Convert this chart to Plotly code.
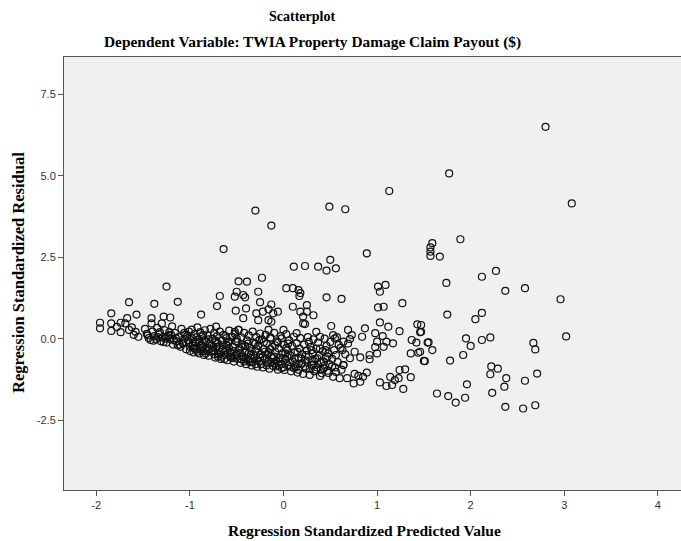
import plotly.graph_objects as go

# ---- data ----
pred = [
    # left sparse
    -1.96, -1.96, -1.84, -1.84, -1.84, -1.74, -1.74, -1.67, -1.69, -1.65, -1.60, -1.55, -1.65, -1.57, -1.78, -1.62, -1.58,
    # -1.5 .. -1.0
    -1.38, -1.25, -1.13, -0.88, -1.41, -1.41, -1.28, -1.21, -1.30,
    -1.48, -1.46, -1.44, -1.42, -1.40, -1.38, -1.36, -1.35, -1.33, -1.31, -1.29, -1.27, -1.25, -1.23, -1.21, -1.19, -1.18,
    -1.16, -1.14, -1.12, -1.10, -1.09, -1.07, -1.05, -1.04, -1.02, -1.01, -1.00,
    # -1.0 .. -0.5
    -0.98, -0.98, -0.97, -0.96, -0.95, -0.94, -0.93, -0.92, -0.91, -0.90, -0.89, -0.88, -0.87, -0.86, -0.85, -0.84, -0.83,
    -0.82, -0.81, -0.80, -0.79, -0.78, -0.77, -0.76, -0.75, -0.74, -0.73, -0.72, -0.71, -0.70, -0.69, -0.68, -0.67, -0.66,
    -0.65, -0.64, -0.63, -0.62, -0.61, -0.60, -0.59, -0.58, -0.57, -0.56, -0.55, -0.54, -0.53, -0.52, -0.51, -0.50,
    # -0.5 .. 0
    -0.49, -0.48, -0.47, -0.46, -0.45, -0.44, -0.43, -0.42, -0.41, -0.40, -0.39, -0.38, -0.37, -0.36, -0.35, -0.34, -0.33,
    -0.32, -0.31, -0.30, -0.29, -0.28, -0.27, -0.26, -0.25, -0.24, -0.23, -0.22, -0.21, -0.20, -0.19, -0.18, -0.17, -0.16,
    -0.15, -0.14, -0.13, -0.12, -0.11, -0.10, -0.09, -0.08, -0.07, -0.06, -0.05, -0.04, -0.03, -0.02, -0.01, 0.00,
    # 0 .. 0.7
    0.01, 0.02, 0.03, 0.04, 0.05, 0.06, 0.07, 0.08, 0.09, 0.10, 0.11, 0.12, 0.13, 0.14, 0.15, 0.16, 0.17, 0.18, 0.19, 0.20,
    0.21, 0.22, 0.23, 0.24, 0.25, 0.26, 0.27, 0.28, 0.29, 0.30, 0.31, 0.32, 0.33, 0.34, 0.35, 0.36, 0.37, 0.38, 0.39, 0.40,
    0.41, 0.42, 0.43, 0.44, 0.45, 0.46, 0.47, 0.48, 0.49, 0.50, 0.52, 0.53, 0.54, 0.55, 0.56, 0.57, 0.58, 0.60, 0.61, 0.62,
    0.64, 0.66, 0.68, 0.69,
    # second layer of the dense band
    -1.15, -1.08, -1.03, -0.97, -0.93, -0.89, -0.85, -0.81, -0.77, -0.73, -0.69, -0.65, -0.61, -0.57, -0.53, -0.49, -0.45,
    -0.41, -0.37, -0.33, -0.29, -0.25, -0.21, -0.17, -0.13, -0.09, -0.05, -0.01, 0.03, 0.07, 0.11, 0.15, 0.19, 0.23, 0.27,
    0.31, 0.35, 0.39, 0.43, 0.47,
    -1.32, -1.26, -1.20, -1.13, -1.06, -1.00, -0.95, -0.90, -0.86, -0.80, -0.75, -0.70, -0.66, -0.62, -0.58, -0.54, -0.50,
    -0.46, -0.42, -0.38, -0.34, -0.30, -0.26, -0.22, -0.18, -0.14, -0.10, -0.06, -0.02, 0.02,
    # above the band
    -0.23, -0.48, -0.39, -0.27, -0.50, -0.52, -0.43, -0.41, -0.68, -0.71, -0.51, -0.40, -0.25, 0.03, 0.10, 0.16, 0.17,
    -0.13, -0.16, -0.06, -0.11, -0.22, -0.29, -0.27, -0.16, -0.13, 0.10, 0.18, 0.25, 0.25, 0.21, 0.23, -0.43, -0.72,
    -0.48, -0.52, -0.55, -0.16, -0.14, 0.00, -0.02, 0.14,
    0.46, 0.62, 0.32, 0.21, 0.18, 0.51, 0.69, 0.73, 0.71, 0.87, 0.84, 0.39, 0.35, 0.53, 0.55, 0.59, 0.64, 0.63,
    # middle right
    0.98, 1.06, 1.00, 1.10, 1.17, 0.98, 1.07, 1.37, 1.42, 1.54, 1.36, 1.44, 1.50, 0.92, 0.92, 1.00, 0.82, 0.76, 0.71,
    0.64, 0.89, 0.85, 0.80, 0.76, 0.82, 0.75, 1.24, 1.30, 1.36, 1.23, 1.03, 1.14, 1.19, 1.10, 1.16, 1.28,
    1.01, 1.09, 1.03, 1.27, 1.01, 1.07, 1.03, 1.12, 1.24, 1.43, 1.46,
    # right side
    1.57, 1.67, 1.59, 1.57, 1.57, 1.74, 2.12, 2.27, 2.37, 2.58, 2.96, 1.75, 2.12, 2.05, 1.47, 1.47, 1.55, 1.59, 1.46,
    1.51, 1.78, 1.95, 2.00, 2.12, 2.21, 1.92, 2.67, 2.69, 3.02, 2.22, 2.29, 2.21, 2.38, 2.36, 2.58, 2.71, 1.96, 2.23,
    1.64, 1.76, 1.84, 1.94, 2.37, 2.56, 2.69,
    # upper outliers
    2.80, 1.77, 3.08, 1.89, 1.13, -0.30, 0.49, 0.66, -0.13, -0.64, 0.89, 0.11, 0.23, 0.37, 0.46, 0.50, 0.56,
]

resid = [
    # left sparse
    0.49, 0.32, 0.78, 0.47, 0.24, 0.49, 0.20, 0.63, 0.47, 0.27, 0.12, 0.06, 1.12, 0.74, 0.36, 0.35, 0.21,
    # -1.5 .. -1.0
    1.07, 1.60, 1.13, 0.74, 0.63, 0.47, 0.68, 0.65, 0.47,
    0.30, 0.15, 0.02, -0.04, 0.22, 0.08, -0.02, 0.33, 0.14, -0.08, 0.04, 0.26, -0.12, 0.10, -0.02, 0.38, -0.18,
    0.18, -0.08, 0.05, -0.25, 0.30, -0.15, 0.12, -0.32, -0.05, 0.22, -0.38,
    # -1.0 .. -0.5
    0.28, 0.02, -0.22, -0.42, 0.14, -0.10, -0.33, 0.35, -0.02, -0.45, 0.20, -0.18, 0.06, -0.38, -0.50, 0.26, -0.08,
    -0.28, 0.10, -0.52, -0.15, 0.30, -0.40, 0.00, -0.25, 0.18, -0.58, -0.10, 0.08, -0.45, -0.30, 0.22, -0.62, -0.05,
    -0.20, 0.12, -0.50, -0.35, 0.02, -0.66, -0.12, 0.25, -0.42, -0.58, 0.06, -0.25, -0.70, 0.15, -0.08, -0.48,
    # -0.5 .. 0
    -0.62, 0.27, -0.30, -0.74, 0.04, -0.18, -0.55, 0.18, -0.40, -0.78, -0.05, -0.66, 0.10, -0.28, -0.50, -0.82, 0.22,
    -0.12, -0.60, -0.38, 0.05, -0.86, -0.22, -0.70, 0.16, -0.48, -0.02, -0.88, -0.32, -0.62, 0.12, -0.15, -0.76, -0.42,
    -0.92, 0.04, -0.55, -0.25, -0.84, 0.18, -0.40, -0.68, -0.08, -0.95, -0.30, -0.58, 0.08, -0.78, -0.45, -0.18,
    # 0 .. 0.7
    -0.96, -0.62, 0.14, -0.35, -0.82, -0.05, -0.50, -1.00, -0.22, -0.70, 0.06, -0.42, -0.88, -0.14, -1.04, -0.58, -0.30,
    0.02, -0.78, -0.48, -1.08, -0.18, -0.66, -0.92, -0.36, 0.05, -0.55, -1.11, -0.25, -0.80, -0.45, -0.02, -1.00, -0.62,
    -0.30, -0.88, -0.12, -0.52, -1.14, -0.72, -1.06, -0.38, -0.91, 0.00, -0.60, -0.22, -0.98, -0.45, -0.78, -0.10, -0.62,
    -1.17, -0.35, -0.88, -0.50, 0.05, -0.72, -1.21, -0.28, -0.95, -0.81, -0.48, -1.21, -0.15,
    # second layer of the dense band
    0.02, -0.12, 0.08, -0.15, 0.05, -0.28, -0.05, -0.38, -0.20, -0.05, -0.48, -0.32, -0.18, -0.55, -0.38, -0.10, -0.62,
    -0.22, -0.45, -0.70, -0.30, -0.58, -0.10, -0.48, -0.72, -0.20, -0.82, -0.60, -0.28, -0.72, -0.90, -0.40, -0.60, -0.85,
    -0.10, -0.68, -0.95, -0.30, -0.70, -0.55,
    0.20, 0.00, 0.12, -0.20, 0.00, -0.25, -0.30, -0.10, 0.12, -0.02, -0.35, -0.15, -0.55, 0.08, -0.30, -0.60, 0.00,
    -0.45, -0.70, -0.15, -0.38, -0.78, -0.05, -0.55, -0.82, -0.32, -0.55, -0.12, -0.90, -0.45,
    # above the band
    1.87, 1.76, 1.75, 1.44, 1.44, 1.29, 1.34, 1.27, 1.31, 1.00, 0.86, 0.93, 1.12, 1.55, 1.55, 1.49, 1.31,
    1.05, 0.90, 0.83, 0.78, 0.83, 0.78, 0.57, 0.57, 0.52, 0.98, 0.83, 1.03, 0.83, 0.68, 0.45, 0.63, 0.37,
    0.27, 0.21, 0.06, 0.27, 0.01, 0.27, 0.01, 0.17,
    1.27, 1.22, 0.72, 0.47, 1.40, 0.39, 0.27, 0.11, -0.01, 0.32, 0.06, 0.06, 0.21, 0.11, 0.01, -0.19, -0.09, -0.35,
    # middle right
    0.17, 0.08, -0.09, -0.09, -0.14, -0.26, -0.25, -0.04, -0.12, -0.12, -0.45, -0.43, -0.68, -0.50, -0.63, -0.45, -0.57,
    -0.40, -0.60, -0.81, -1.04, -1.17, -1.14, -1.08, -1.32, -1.37, -0.96, -0.94, -1.18, -1.21, -1.34, -1.17, -1.27,
    -1.45, -1.42, -1.54,
    1.60, 1.65, 1.44, 1.09, 0.96, 0.98, 0.50, 0.37, 0.23, 0.44, 0.20,
    # right side
    2.67, 2.52, 2.93, 2.80, 2.54, 1.71, 1.90, 2.08, 1.47, 1.55, 1.21, 0.74, 0.79, 0.60, 0.42, 0.21, -0.11, -0.35, -0.40,
    -0.69, -0.67, 0.01, -0.22, -0.04, 0.04, -0.50, -0.13, -0.33, 0.07, -0.85, -0.92, -1.09, -1.21, -1.47, -1.29, -1.07,
    -1.40, -1.66, -1.68, -1.76, -1.96, -1.81, -2.09, -2.14, -2.04,
    # upper outliers
    6.50, 5.07, 4.15, 3.05, 4.53, 3.93, 4.05, 3.97, 3.47, 2.75, 2.62, 2.21, 2.23, 2.21, 2.09, 2.42, 2.16,
]

# third layer of the dense band (nearly solid black in the reference)
band_pred = [
    -1.45, -1.39, -1.34, -1.28, -1.22, -1.17, -1.11, -1.06, -1.01, -0.96, -0.92, -0.87, -0.83, -0.79, -0.74, -0.71,
    -0.67, -0.63, -0.60, -0.56, -0.52, -0.48, -0.44, -0.40, -0.36, -0.32, -0.28, -0.24, -0.20, -0.16, -0.12, -0.08,
    -0.04, 0.00, 0.04, 0.08, 0.12, 0.16, 0.20, 0.24, 0.28, 0.32, 0.36, 0.40, 0.44, 0.48, 0.52, 0.56,
    -0.70, -0.35, -0.10, 0.14, -0.58, -0.88, -1.24, -0.45, -0.30, 0.05, 0.30, 0.45,
]
band_resid = [
    0.10, -0.06, 0.05, -0.10, 0.20, -0.05, -0.18, 0.18, -0.12, -0.28, -0.40, -0.22, -0.45, -0.32, -0.48, -0.25,
    -0.40, -0.62, -0.22, -0.45, -0.52, -0.35, -0.55, -0.62, -0.72, -0.50, -0.65, -0.78, -0.40, -0.68, -0.60, -0.85,
    -0.70, -0.88, -0.55, -0.86, -0.62, -0.95, -0.75, -0.50, -0.92, -0.80, -0.60, -0.95, -0.82, -1.05, -0.85, -1.02,
    -0.55, -0.60, -0.75, -0.78, -0.08, -0.35, 0.05, -0.25, -0.15, -0.15, -0.35, -0.35,
]

x_ticks = [-2, -1, 0, 1, 2, 3, 4]
x_tick_text = ["-2", "-1", "0", "1", "2", "3", "4"]
y_ticks = [-2.5, 0.0, 2.5, 5.0, 7.5]
y_tick_text = ["-2.5", "0.0", "2.5", "5.0", "7.5"]

title_main = "Scatterplot"
title_sub = "Dependent Variable: TWIA Property Damage Claim Payout ($)"
x_title = "Regression Standardized Predicted Value"
y_title = "Regression Standardized Residual"

all_x = pred + band_pred
all_y = resid + band_resid
assert len(all_x) == len(all_y)

# ---- layout geometry (pixels) ----
W, H = 681, 541
L, R, T, B = 64, 0, 57, 51
pw, ph = W - L - R, H - T - B

def px_x(px):
    return (px - L) / pw

def px_y(py):
    return (H - B - py) / ph

serif = "Liberation Serif, Times New Roman, serif"
sans = "Liberation Sans, Arial, sans-serif"

fig = go.Figure()
fig.add_trace(go.Scatter(
    x=all_x, y=all_y, mode="markers",
    marker=dict(symbol="circle-open", size=7, color="#111111", line=dict(width=1.2)),
    showlegend=False, hoverinfo="x+y",
))

axis_common = dict(
    showgrid=False, zeroline=False, showline=True, linecolor="#555555", linewidth=1,
    ticks="outside", ticklen=5, tickcolor="#555555", tickwidth=1,
    tickfont=dict(family=sans, size=11, color="#333333"),
)

fig.update_layout(
    width=W, height=H,
    margin=dict(l=L, r=R, t=T, b=B, pad=0),
    paper_bgcolor="white", plot_bgcolor="#f0f0f0",
    xaxis=dict(range=[-2.345, 4.247], tickvals=x_ticks, ticktext=x_tick_text, mirror=True, **axis_common),
    yaxis=dict(range=[-4.64, 8.64], tickvals=y_ticks, ticktext=y_tick_text, **axis_common),
    annotations=[
        dict(text="<b>" + title_main + "</b>", xref="paper", yref="paper",
             x=px_x(302), y=px_y(17), xanchor="center", yanchor="middle", showarrow=False,
             font=dict(family=serif, size=14, color="#000000")),
        dict(text="<b>" + title_sub + "</b>", xref="paper", yref="paper",
             x=px_x(312), y=px_y(42), xanchor="center", yanchor="middle", showarrow=False,
             font=dict(family=serif, size=15.4, color="#000000")),
        dict(text="<b>" + x_title + "</b>", xref="paper", yref="paper",
             x=px_x(364), y=px_y(530), xanchor="center", yanchor="middle", showarrow=False,
             font=dict(family=serif, size=15.5, color="#000000")),
        dict(text="<b>" + y_title + "</b>", xref="paper", yref="paper",
             x=px_x(18), y=px_y(273), xanchor="center", yanchor="middle", showarrow=False,
             textangle=-90, font=dict(family=serif, size=16.5, color="#000000")),
    ],
)

fig.write_html("out.html")
